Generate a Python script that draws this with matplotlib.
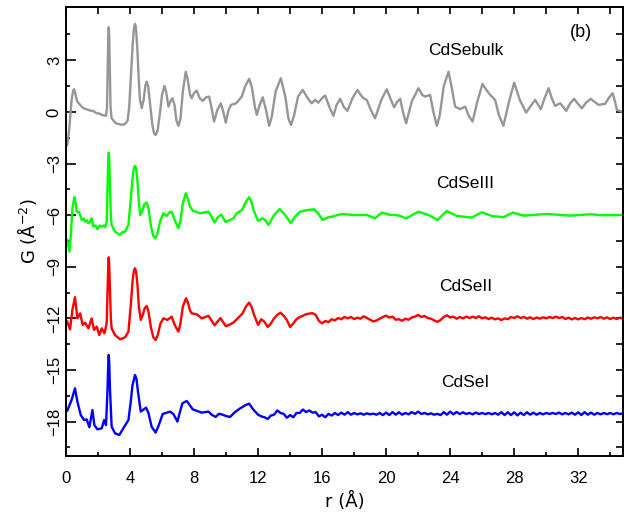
import matplotlib
matplotlib.use('Agg')
import matplotlib.pyplot as plt
import numpy as np

plt.rcParams['font.family'] = ['Liberation Sans', 'DejaVu Sans']

# (r, G) pairs, offsets already included
cdse_bulk = [(0.08, -1.92), (0.2, -1.0), (0.35, 0.7), (0.45, 1.25), (0.5, 1.32), (0.58, 1.1),
             (0.68, 0.65), (0.77, 0.52), (1.08, 0.22), (1.3, 0.15), (1.5, 0.08), (1.7, 0.05),
             (1.92, -0.08), (2.1, -0.1), (2.3, -0.2), (2.5, -0.22), (2.56, 0.3), (2.6, 2.4),
             (2.64, 4.4), (2.67, 4.92), (2.7, 4.4), (2.74, 2.4), (2.78, 0.3), (2.84, -0.35),
             (2.96, -0.5), (3.1, -0.65), (3.27, -0.7), (3.5, -0.75), (3.69, -0.7), (3.85, -0.5),
             (3.95, 0.3), (4.05, 2.0), (4.17, 4.0), (4.25, 4.9), (4.31, 5.12), (4.37, 4.9),
             (4.46, 3.6), (4.55, 1.8), (4.62, 0.7), (4.73, 0.22), (4.85, 0.7), (4.95, 1.5),
             (5.04, 1.76), (5.13, 1.5), (5.25, 0.5), (5.4, -0.8), (5.5, -1.25), (5.6, -1.34),
             (5.72, -1.1), (5.85, -0.2), (6.0, 1.0), (6.15, 1.51), (6.25, 1.2), (6.4, 0.31),
             (6.52, 0.6), (6.65, 0.8), (6.78, 0.4), (6.9, -0.5), (7.02, -0.81), (7.15, -0.4),
             (7.3, 1.2), (7.48, 2.34), (7.6, 1.9), (7.75, 1.0), (7.85, 0.8), (8.0, 1.1),
             (8.17, 1.24), (8.35, 0.8), (8.54, 0.64), (8.75, 0.85), (8.94, 0.89), (9.1, 0.2),
             (9.25, -0.56), (9.45, 0.1), (9.67, 0.5), (9.83, 0.0), (9.98, -0.62), (10.15, 0.1),
             (10.31, 0.41), (10.63, 0.5), (10.98, 0.89), (11.2, 1.5), (11.44, 1.92), (11.62, 1.4),
             (11.8, 0.3), (11.92, -0.17), (12.1, 0.4), (12.29, 0.85), (12.5, 0.1), (12.69, -0.81),
             (12.85, -0.3), (13.1, 1.2), (13.42, 1.96), (13.7, 0.9), (13.9, -0.4), (14.06, -0.76),
             (14.25, -0.2), (14.5, 0.9), (14.79, 1.28), (15.1, 0.8), (15.35, 0.5), (15.56, 0.7),
             (15.77, 0.54), (16.0, 0.8), (16.19, 0.95), (16.45, 0.3), (16.71, -0.23), (16.9, 0.4),
             (17.13, 0.76), (17.35, 0.3), (17.58, 0.06), (17.9, 0.8), (18.21, 1.28), (18.4, 1.0),
             (18.58, 0.8), (18.79, 0.7), (19.05, 0.1), (19.31, -0.37), (19.7, 0.7), (20.04, 1.32),
             (20.3, 0.7), (20.5, 0.27), (20.7, 0.6), (20.88, 0.76), (21.05, 0.0), (21.25, -0.66),
             (21.6, 0.6), (22.02, 1.38), (22.25, 1.0), (22.44, 0.89), (22.75, 0.99), (22.95, 0.0),
             (23.17, -0.81), (23.35, -0.2), (23.6, 1.5), (23.9, 2.34), (24.1, 1.4), (24.31, 0.31),
             (24.63, 0.16), (24.94, 0.31), (25.15, -0.2), (25.4, -0.56), (25.7, 0.6), (26.02, 1.63),
             (26.25, 1.3), (26.5, 0.99), (26.81, 0.7), (27.05, -0.2), (27.33, -0.81), (27.65, 0.5),
             (28.0, 1.7), (28.35, 0.7), (28.75, -0.04), (29.0, 0.3), (29.31, 0.7), (29.67, 0.16),
             (29.9, 0.8), (30.15, 1.38), (30.35, 0.8), (30.56, 0.35), (30.88, 0.5), (31.25, 0.06),
             (31.5, 0.5), (31.75, 0.76), (32.0, 0.45), (32.23, 0.21), (32.5, 0.55), (32.79, 0.76),
             (33.0, 0.6), (33.27, 0.41), (33.69, 0.47), (33.9, 0.8), (34.15, 1.09), (34.3, 0.6),
             (34.42, 0.12), (34.73, 0.02)]

cdse_3 = [(0.08, -7.44), (0.21, -8.12), (0.3, -7.2), (0.4, -5.6), (0.52, -4.96), (0.6, -5.3),
          (0.67, -5.8), (0.83, -5.85), (0.98, -6.28), (1.1, -6.2), (1.19, -6.38), (1.3, -6.3),
          (1.4, -6.47), (1.5, -6.4), (1.6, -6.18), (1.71, -6.67), (1.85, -6.6), (1.96, -6.82),
          (2.1, -6.6), (2.23, -6.67), (2.35, -6.6), (2.44, -6.7), (2.54, -6.4), (2.6, -4.2),
          (2.64, -2.8), (2.67, -2.37), (2.7, -2.8), (2.74, -4.2), (2.8, -6.0), (2.85, -6.57),
          (3.06, -6.96), (3.2, -7.05), (3.38, -7.15), (3.5, -7.0), (3.69, -6.96), (3.9, -6.57),
          (4.05, -5.0), (4.17, -3.7), (4.25, -3.25), (4.31, -3.14), (4.38, -3.3), (4.46, -4.0),
          (4.55, -5.2), (4.63, -5.99), (4.75, -5.8), (4.9, -5.35), (5.04, -5.27), (5.15, -5.6),
          (5.3, -6.6), (5.45, -7.2), (5.56, -7.35), (5.7, -7.1), (5.9, -6.3), (6.08, -5.89),
          (6.29, -6.05), (6.45, -5.85), (6.6, -5.8), (6.8, -6.3), (7.02, -6.76), (7.15, -6.3),
          (7.3, -5.3), (7.48, -4.73), (7.6, -5.0), (7.75, -5.5), (7.92, -5.74), (8.38, -5.89),
          (8.9, -5.8), (9.1, -6.1), (9.28, -6.43), (9.5, -6.1), (9.7, -5.97), (9.97, -6.4),
          (10.2, -6.3), (10.46, -6.18), (10.67, -5.89), (11.0, -5.7), (11.25, -5.2), (11.44, -4.96),
          (11.58, -5.2), (11.71, -5.7), (12.0, -6.33), (12.29, -6.18), (12.45, -6.3), (12.65, -6.57),
          (13.0, -6.0), (13.35, -5.64), (13.7, -6.0), (14.04, -6.47), (14.3, -6.1), (14.63, -5.8),
          (15.08, -5.7), (15.5, -5.66), (15.75, -5.9), (16.04, -6.28), (16.3, -6.15), (16.6, -6.09),
          (17.23, -5.93), (17.96, -5.99), (18.79, -5.99), (19.31, -6.18), (19.73, -5.85), (20.25, -5.99),
          (20.67, -5.99), (21.25, -6.18), (22.02, -5.8), (22.65, -5.99), (23.21, -6.28), (23.79, -5.76),
          (24.42, -6.05), (25.35, -6.14), (25.98, -5.83), (26.6, -6.05), (27.33, -6.12), (27.92, -5.85),
          (28.58, -6.03), (30.04, -5.93), (31.5, -6.03), (32.75, -5.95), (33.58, -6.01), (34.73, -5.99)]

cdse_2_head = [(0.08, -12.19), (0.25, -12.64), (0.4, -11.5), (0.56, -10.77), (0.71, -12.0),
               (0.88, -11.71), (1.04, -12.38), (1.19, -12.25), (1.4, -12.58), (1.6, -12.0),
               (1.75, -12.67), (1.92, -12.48), (2.08, -12.97), (2.23, -12.58), (2.4, -12.87),
               (2.54, -12.29), (2.6, -10.2), (2.64, -8.9), (2.67, -8.45), (2.7, -8.9), (2.74, -10.2),
               (2.8, -12.0), (2.85, -12.58), (3.06, -12.97), (3.38, -13.22), (3.69, -13.1),
               (3.9, -12.77), (4.05, -11.2), (4.17, -9.7), (4.25, -9.2), (4.31, -9.09), (4.38, -9.3),
               (4.46, -10.0), (4.55, -11.3), (4.67, -12.09), (4.8, -11.8), (4.92, -11.4), (5.04, -11.28),
               (5.15, -11.6), (5.3, -12.5), (5.45, -13.1), (5.6, -13.26), (5.72, -13.0), (5.9, -12.3),
               (6.08, -12.0), (6.33, -12.09), (6.6, -11.9), (6.8, -12.4), (7.02, -12.77), (7.15, -12.3),
               (7.3, -11.3), (7.5, -10.83), (7.62, -11.1), (7.75, -11.55), (7.85, -11.71), (8.17, -11.76),
               (8.48, -12.0), (8.9, -11.85), (9.28, -12.4), (9.65, -11.98), (9.99, -12.46), (10.46, -12.25),
               (10.67, -12.05), (11.03, -11.71), (11.25, -11.3), (11.44, -11.09), (11.58, -11.3),
               (11.75, -11.8)]

cdse_1_head = [(0.08, -17.36), (0.35, -16.74), (0.56, -16.07), (0.71, -16.84), (0.92, -17.62),
               (1.13, -17.91), (1.29, -17.87), (1.46, -18.33), (1.65, -17.33), (1.77, -18.2),
               (1.96, -18.45), (2.23, -18.39), (2.38, -17.91), (2.5, -18.2), (2.59, -16.2),
               (2.64, -14.6), (2.67, -14.13), (2.7, -14.6), (2.75, -16.2), (2.85, -18.29),
               (3.06, -18.68), (3.33, -18.78), (3.58, -18.39), (3.9, -17.91), (4.05, -16.8),
               (4.15, -15.9), (4.31, -15.29), (4.4, -15.5), (4.5, -16.3), (4.67, -17.42), (5.0, -17.19),
               (5.15, -17.5), (5.35, -18.3), (5.6, -18.64), (5.8, -18.2), (6.04, -17.56), (6.5, -17.42),
               (6.71, -17.56), (6.96, -18.0), (7.1, -17.5), (7.27, -16.94), (7.54, -16.8), (7.92, -17.29),
               (8.48, -17.48), (8.9, -17.42), (9.1, -17.6), (9.35, -17.73), (9.55, -17.55), (9.73, -17.58),
               (10.0, -17.68), (10.25, -17.73), (10.55, -17.45), (10.85, -17.25), (11.2, -17.05),
               (11.44, -16.96), (11.7, -17.3)]

# noisy tails, sampled every 0.2 A from r = 12
tail_r = np.arange(12.0, 34.9, 0.2)
cdse_2_tail = [-12.38, -12.05, -12.2, -12.5, -12.3, -12.0, -11.8, -11.67, -11.85, -12.1,
               -12.5, -12.3, -12.05, -11.92, -11.85, -11.76, -11.72, -11.7, -11.8, -12.15,
               -12.29, -12.15, -12.22, -12.05, -12.12, -11.98, -12.05, -11.92, -12.0, -11.92,
               -12.04, -11.96, -12.02, -11.88, -11.98, -12.08, -12.18, -12.12, -12.02, -11.92,
               -11.84, -11.96, -11.9, -12.08, -12.05, -12.14, -12.02, -12.08, -11.95, -11.9,
               -11.8, -11.92, -11.86, -11.98, -12.02, -12.12, -12.2, -12.1, -11.92, -11.82,
               -11.95, -11.9, -12.02, -11.92, -12.0, -11.9, -11.98, -11.9, -11.98, -11.88,
               -12.0, -11.94, -12.04, -11.96, -12.06, -12.0, -12.1, -12.0, -12.05, -11.92,
               -11.98, -11.88, -11.98, -11.92, -12.02, -11.94, -12.04, -11.95, -12.02, -11.94,
               -12.0, -11.92, -11.98, -11.9, -11.98, -11.92, -12.04, -11.96, -12.06, -11.98,
               -12.06, -11.98, -12.05, -11.95, -12.02, -11.94, -12.0, -11.92, -12.02, -11.94,
               -12.04, -11.96, -12.04, -11.96, -12.02]
cdse_1_tail = [-17.6, -17.7, -17.75, -17.85, -17.65, -17.6, -17.35, -17.5, -17.55, -17.78,
               -17.62, -17.75, -17.5, -17.5, -17.3, -17.45, -17.35, -17.48, -17.45, -17.7,
               -17.6, -17.75, -17.55, -17.65, -17.5, -17.62, -17.48, -17.6, -17.45, -17.6,
               -17.5, -17.58, -17.52, -17.6, -17.52, -17.58, -17.54, -17.6, -17.5, -17.62,
               -17.48, -17.62, -17.45, -17.6, -17.46, -17.6, -17.5, -17.58, -17.45, -17.55,
               -17.42, -17.56, -17.5, -17.58, -17.52, -17.6, -17.55, -17.62, -17.45, -17.6,
               -17.42, -17.58, -17.44, -17.56, -17.46, -17.56, -17.5, -17.58, -17.48, -17.56,
               -17.5, -17.57, -17.5, -17.58, -17.5, -17.6, -17.45, -17.62, -17.46, -17.62,
               -17.46, -17.64, -17.48, -17.62, -17.46, -17.6, -17.48, -17.6, -17.5, -17.58,
               -17.5, -17.56, -17.5, -17.56, -17.48, -17.58, -17.5, -17.58, -17.48, -17.6,
               -17.46, -17.62, -17.45, -17.6, -17.48, -17.6, -17.5, -17.58, -17.5, -17.57,
               -17.5, -17.58, -17.5, -17.56, -17.52]

cdse_2 = cdse_2_head + list(zip(tail_r, cdse_2_tail))
cdse_1 = cdse_1_head + list(zip(tail_r, cdse_1_tail))

names = ['CdSebulk', 'CdSeIII', 'CdSeII', 'CdSeI']
colors = ['#969696', '#00ff00', '#ff0000', '#0000ff']
label_y = [3.55, -4.19, -10.17, -15.73]

fig = plt.figure(figsize=(6.24, 5.2), dpi=100)
ax = fig.add_axes([0.1058, 0.1231, 0.8926, 0.8635])

for data, c in zip([cdse_bulk, cdse_3, cdse_2, cdse_1], colors):
    r, g = zip(*data)
    ax.plot(r, g, color=c, lw=1.7, solid_joinstyle='round')

for name, y in zip(names, label_y):
    ax.text(24.95, y, name, ha='center', va='center', fontsize=12.5)
ax.text(32.2, 4.6, '(b)', ha='center', va='center', fontsize=13)

ax.set_xlim(0, 34.8)
ax.set_ylim(-20, 6.1)
ax.set_xticks(np.arange(0, 34, 4))
ax.set_xticks(np.arange(0, 35, 2), minor=True)
ax.set_yticks(np.arange(-18, 4, 3))
ax.set_yticks(np.arange(-19.5, 6, 1.5), minor=True)
ax.set_yticklabels([str(v).replace('-', '\u2212') for v in range(-18, 4, 3)], rotation=90, va='center')

ax.tick_params(which='both', direction='in', width=1.2, labelsize=12)
ax.tick_params(axis='x', which='major', length=6, pad=11)
ax.tick_params(axis='y', which='major', length=7, pad=3)
ax.tick_params(which='minor', length=3)

top = ax.secondary_xaxis('top')
top.set_xticks(np.arange(0, 35, 2))
top.tick_params(direction='in', length=5, width=1.2, labeltop=False)
right = ax.secondary_yaxis('right')
right.set_yticks(np.arange(-19.5, 6, 1.5))
right.tick_params(direction='in', length=5, width=1.2, labelright=False)

for s in list(ax.spines.values()) + [top.spines['top'], right.spines['right']]:
    s.set_linewidth(1.4)

ax.set_xlabel('r (\u00c5)', fontsize=13, family='DejaVu Sans', labelpad=4)
ax.set_ylabel('G (\u00c5$^{-2}$)', fontsize=13, family='DejaVu Sans', labelpad=6)

fig.savefig('out.png', dpi=100)
